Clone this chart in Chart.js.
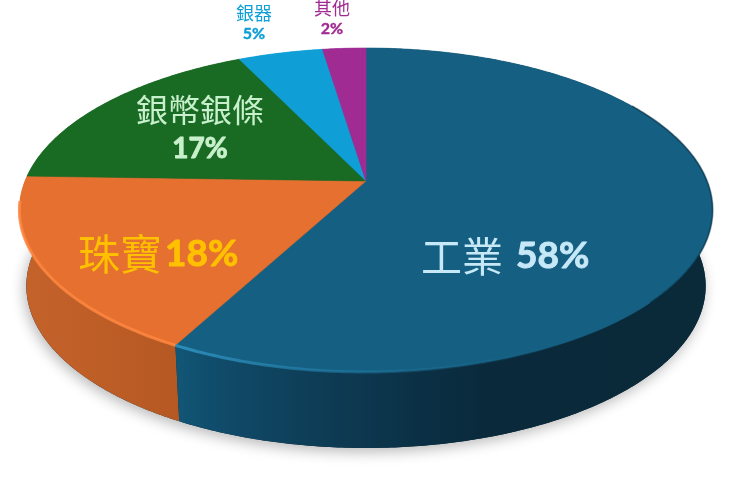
<!DOCTYPE html>
<html><head><meta charset="utf-8">
<style>html,body{margin:0;padding:0;background:#fff}canvas{display:block}</style>
<script src="https://cdn.jsdelivr.net/npm/chart.js@4"></script>
</head><body><canvas id="c" width="740" height="486"></canvas>
<script>
const categories = ['工業','珠寶','銀幣銀條','銀器','其他'];
const shares = [57.8, 17.7, 17.4, 4.7, 2.4];
const percentLabels = ['58%','18%','17%','5%','2%'];
const topColors = ['#156082','#E5702F','#196B24','#0F9ED5','#A02B93'];
const textColors = ['#C6E8F7','#FFC000','#C8F0CC','#0F9ED5','#A02B93'];

const CJK = '"Noto Sans CJK TC"', NUM = 'Lato';
const view = {cx:366, cy:181, R:341, S:156.8, k:-0.179, depth:76, shrink:0.98};
const project = (a)=>{const u=Math.cos(a),v=Math.sin(a),w=1+view.k*v;
  return [view.cx+view.R*u/w, view.cy+view.S*v/w];};
const lower = (p)=>[view.cx+(p[0]-view.cx)*view.shrink, p[1]+view.depth];
const rim = (a0,a1)=>{const n=Math.max(2,Math.ceil(Math.abs(a1-a0)/0.01));const o=[];
  for(let i=0;i<=n;i++)o.push(project(a0+(a1-a0)*i/n));return o;};
const trace=(ctx,pts,move=true)=>pts.forEach((p,i)=>(i==0&&move)?ctx.moveTo(p[0],p[1]):ctx.lineTo(p[0],p[1]));
const hGrad=(ctx,stops)=>{const g=ctx.createLinearGradient(0,0,740,0);stops.forEach(s=>g.addColorStop(s[0]/740,s[1]));return g;};

const placements=[
 {x:516,y:256,cjk:41,num:37,inline:true,gap:13},
 {x:165,y:254,cjk:42,num:37,inline:true,gap:3},
 {x:200,y:110,cjk:32,num:28,inline:false,dy:39},
 {x:254,y:13,cjk:18,num:16,inline:false,dy:21},
 {x:332,y:8,cjk:18,num:16,inline:false,dy:21}];

const pie3d={id:'pie3d',
 beforeDatasetsDraw(chart){
  const ctx=chart.ctx, arcs=chart.getDatasetMeta(0).data;
  // ground shadow
  ctx.save();ctx.shadowColor='rgba(0,0,0,.28)';ctx.shadowBlur=14;ctx.shadowOffsetX=-2;ctx.shadowOffsetY=4;
  ctx.fillStyle='#0b2a3a';ctx.beginPath();trace(ctx,rim(0,Math.PI*2).map(lower));ctx.closePath();ctx.fill();ctx.restore();
  // side walls
  const walls={0:hGrad(ctx,[[176,'#125676'],[215,'#104C6B'],[300,'#0E3F59'],[420,'#0B3045'],[480,'#0A2A3C'],[740,'#0A2A38']]),
               1:hGrad(ctx,[[20,'#C4622A'],[100,'#BE5E27'],[176,'#B55822'],[740,'#B55822']])};
  for(const i of [3,4,2,1,0]){const el=arcs[i];
   const t=rim(el.startAngle,el.endAngle);
   ctx.beginPath();trace(ctx,t);trace(ctx,t.map(lower).reverse(),false);ctx.closePath();
   ctx.fillStyle=walls[i]||topColors[i];ctx.fill();}
  // top faces
  arcs.forEach((el,i)=>{ctx.beginPath();ctx.moveTo(view.cx,view.cy);trace(ctx,rim(el.startAngle,el.endAngle),false);ctx.closePath();
   ctx.fillStyle=el.options.backgroundColor;ctx.fill();ctx.strokeStyle=el.options.backgroundColor;ctx.lineWidth=.6;ctx.stroke();});
  // bevel highlight along the front of the rim only
  ctx.save();ctx.lineJoin='round';
  const blue=arcs[0], orange=arcs[1];
  ctx.beginPath();trace(ctx,rim(0.5,blue.endAngle));
  ctx.strokeStyle=hGrad(ctx,[[176,'rgba(48,150,195,.85)'],[330,'rgba(40,135,180,.5)'],[560,'rgba(30,110,150,0)'],[740,'rgba(30,110,150,0)']]);
  ctx.lineWidth=3;ctx.stroke();
  ctx.beginPath();trace(ctx,rim(orange.startAngle,Math.PI*0.96));
  ctx.strokeStyle='rgba(255,135,65,.85)';ctx.lineWidth=3;ctx.stroke();
  ctx.beginPath();trace(ctx,rim(-0.55,0.75));
  ctx.strokeStyle='rgba(5,35,50,.4)';ctx.lineWidth=2;ctx.stroke();
  ctx.restore();
  // labels
  ctx.save();ctx.textBaseline='middle';ctx.lineJoin='round';
  categories.forEach((name,i)=>{const p=placements[i];ctx.fillStyle=textColors[i];ctx.strokeStyle=textColors[i];
   const cf=`${p.cjk}px ${CJK}`, nf=`bold ${p.num}px ${NUM}`;ctx.lineWidth=p.num>20?.9:.4;
   if(p.inline){ctx.textAlign='right';ctx.font=cf;ctx.fillText(name,p.x-p.gap,p.y);
     ctx.textAlign='left';ctx.font=nf;ctx.fillText(percentLabels[i],p.x,p.y);ctx.strokeText(percentLabels[i],p.x,p.y);}
   else{ctx.textAlign='center';ctx.font=cf;ctx.fillText(name,p.x,p.y);
     ctx.font=nf;ctx.fillText(percentLabels[i],p.x,p.y+p.dy);ctx.strokeText(percentLabels[i],p.x,p.y+p.dy);}
  });ctx.restore();
  return false;
 }};

new Chart(document.getElementById('c'),{type:'pie',
 data:{labels:categories,datasets:[{data:shares,backgroundColor:topColors,borderWidth:0}]},
 options:{responsive:false,animation:false,plugins:{legend:{display:false},tooltip:{enabled:false}}},
 plugins:[pie3d]});
</script></body></html>
